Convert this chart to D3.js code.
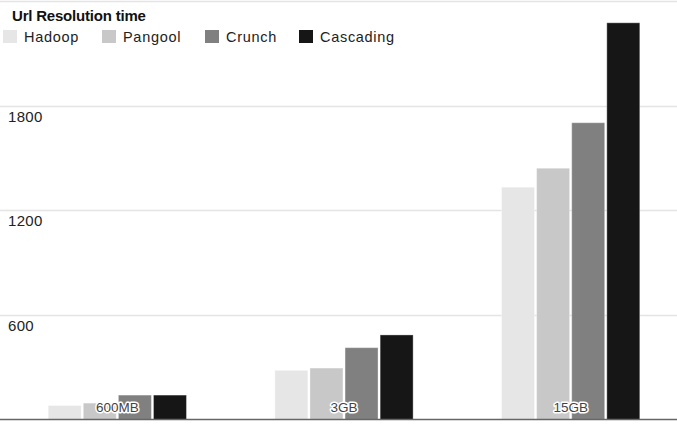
<!DOCTYPE html>
<html>
<head>
<meta charset="utf-8">
<script src="https://cdn.jsdelivr.net/npm/d3@7"></script>
<style>
  body { margin: 0; background: #fff; }
  svg { display: block; font-family: "Liberation Sans", Arial, sans-serif; }
</style>
</head>
<body>
<svg id="chart" width="677" height="424"></svg>
<script>
// data
var categories = ["600MB", "3GB", "15GB"];
var seriesNames = ["Hadoop", "Pangool", "Crunch", "Cascading"];
var hadoop = [80, 282, 1332];
var pangool = [94, 295, 1441];
var crunch = [140, 412, 1702];
var cascading = [140, 485, 2275];
var yTicks = [600, 1200, 1800, 2400];
var seriesColors = ["#e6e6e6", "#c8c8c8", "#808080", "#161616"];

var values = [hadoop, pangool, crunch, cascading];

var svg = d3.select('#chart');
var width = 677, height = 424;
var baseY = 419.5, topY = 1;

var xScale = d3.scaleBand()
	.domain(categories)
	.range([4, 684])
	.paddingInner(0.39)
	.paddingOuter(0.195);

var xInner = d3.scaleBand()
	.domain(seriesNames)
	.range([0, xScale.bandwidth()])
	.paddingInner(0.06);

var yScale = d3.scaleLinear()
	.domain([0, 2400])
	.range([baseY, topY]);

var color = d3.scaleOrdinal().domain(seriesNames).range(seriesColors);

///gridlines
svg.append('g')
	.selectAll('line')
	.data(yTicks)
	.enter()
	.append('line')
	.attr('x1', 0)
	.attr('x2', width)
	.attr('y1', function (d) { return Math.round(yScale(d)) + 0.5; })
	.attr('y2', function (d) { return Math.round(yScale(d)) + 0.5; })
	.attr('stroke', '#e4e4e4')
	.attr('stroke-width', 1.5);

///tick labels under the lines
svg.append('g')
	.selectAll('text')
	.data(yTicks.filter(function (d) { return d < 2400; }))
	.enter()
	.append('text')
	.attr('x', 8)
	.attr('y', function (d) { return yScale(d) + 16; })
	.attr('font-size', 15)
	.attr('letter-spacing', 0.3)
	.attr('fill', '#222')
	.text(function (d) { return d; });

///bars
var rows = [];
categories.forEach(function (cat, ci) {
	seriesNames.forEach(function (s, si) {
		rows.push({ cat: cat, series: s, value: values[si][ci] });
	});
});

svg.append('g')
	.selectAll('rect')
	.data(rows)
	.enter()
	.append('rect')
	.attr('x', function (d) { return xScale(d.cat) + xInner(d.series); })
	.attr('y', function (d) { return yScale(d.value); })
	.attr('width', xInner.bandwidth())
	.attr('height', function (d) { return baseY - yScale(d.value); })
	.attr('fill', function (d) { return color(d.series); })
	.attr('stroke', 'rgba(255,255,255,0.35)')
	.attr('stroke-width', 1);

///baseline
svg.append('line')
	.attr('x1', 0)
	.attr('x2', width)
	.attr('y1', baseY)
	.attr('y2', baseY)
	.attr('stroke', '#666')
	.attr('stroke-width', 1.5);

///category labels with halo
svg.append('g')
	.selectAll('text')
	.data(categories)
	.enter()
	.append('text')
	.attr('x', function (d) { return xScale(d) + xScale.bandwidth() / 2; })
	.attr('y', 412)
	.attr('text-anchor', 'middle')
	.attr('font-size', 13.5)
	.attr('fill', '#444')
	.attr('stroke', '#fff')
	.attr('stroke-width', 3)
	.attr('stroke-linejoin', 'round')
	.attr('paint-order', 'stroke')
	.text(function (d) { return d; });

///title
svg.append('text')
	.attr('x', 12)
	.attr('y', 21)
	.attr('font-size', 15)
	.attr('font-weight', 'bold')
	.attr('letter-spacing', -0.2)
	.attr('fill', '#111')
	.text('Url Resolution time');

///legend
var legendX = [3, 102, 205, 299];
var legend = svg.append('g')
	.selectAll('g')
	.data(seriesNames)
	.enter()
	.append('g')
	.attr('transform', function (d, i) { return 'translate(' + [legendX[i], 30] + ')'; });

legend.append('rect')
	.attr('width', 14)
	.attr('height', 13)
	.attr('fill', function (d) { return color(d); });

legend.append('text')
	.attr('x', 21)
	.attr('y', 12)
	.attr('font-size', 14.5)
	.attr('letter-spacing', 0.7)
	.attr('fill', '#222')
	.text(function (d) { return d; });
</script>
</body>
</html>
